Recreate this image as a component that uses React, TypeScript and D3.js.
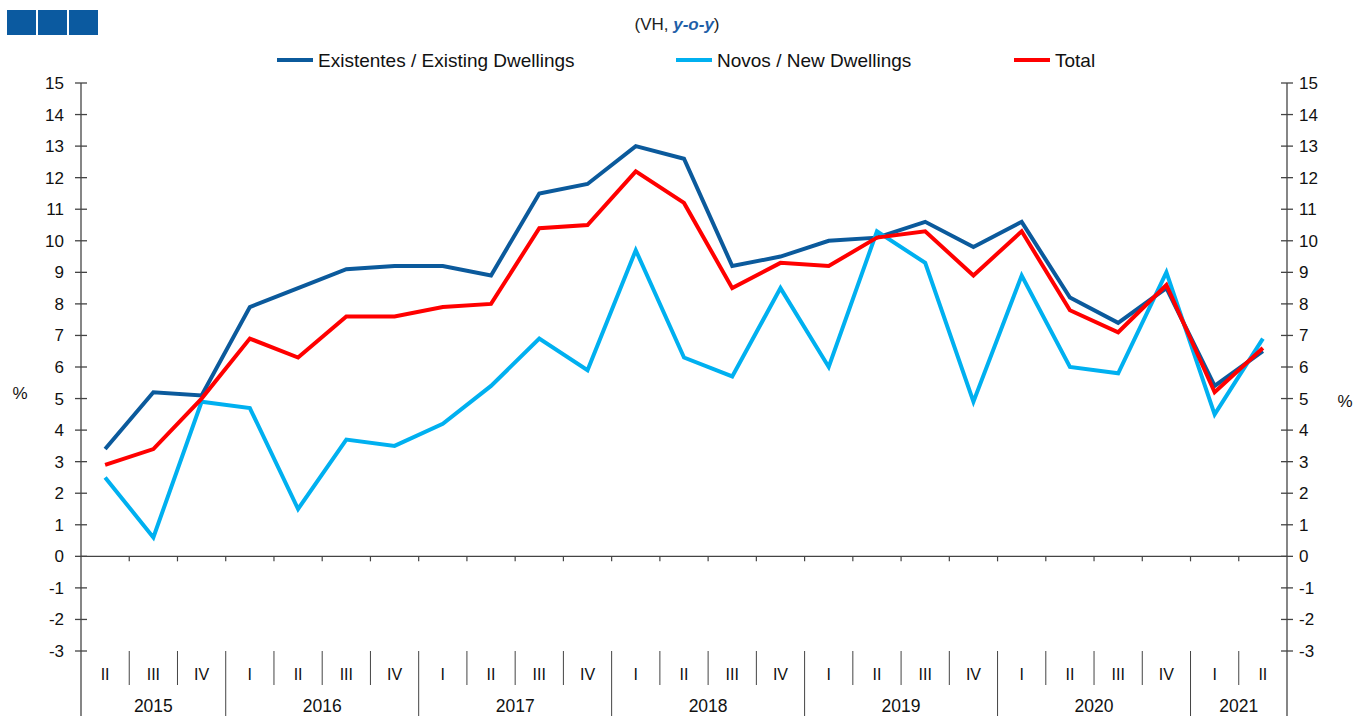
import React from "react";
import * as d3 from "d3";

const quarters = ["II","III","IV","I","II","III","IV","I","II","III","IV","I","II","III","IV","I","II","III","IV","I","II","III","IV","I","II"];
const yearLabels = ["2015","2016","2017","2018","2019","2020","2021"];
const yearQuarterCounts = [3,4,4,4,4,4,2];

const existing = [3.4,5.2,5.1,7.9,8.5,9.1,9.2,9.2,8.9,11.5,11.8,13.0,12.6,9.2,9.5,10.0,10.1,10.6,9.8,10.6,8.2,7.4,8.5,5.4,6.5];
const newDw = [2.5,0.6,4.9,4.7,1.5,3.7,3.5,4.2,5.4,6.9,5.9,9.7,6.3,5.7,8.5,6.0,10.3,9.3,4.9,8.9,6.0,5.8,9.0,4.5,6.9];
const total = [2.9,3.4,5.0,6.9,6.3,7.6,7.6,7.9,8.0,10.4,10.5,12.2,11.2,8.5,9.3,9.2,10.1,10.3,8.9,10.3,7.8,7.1,8.6,5.2,6.6];

const yTicks = [15,14,13,12,11,10,9,8,7,6,5,4,3,2,1,0,-1,-2,-3];

const seriesNames = ["Existentes / Existing Dwellings","Novos / New Dwellings","Total"];
const seriesColors = ["#0b5a9c","#00b0f0","#ff0000"];

export default function App() {
  const W = 1354, H = 716;
  const left = 81, right = 1287;
  const x = d3.scaleBand<number>().domain(d3.range(quarters.length)).range([left, right]).padding(0);
  const y = d3.scaleLinear().domain([-3, 15]).range([651, 83]);
  const bw = x.bandwidth();
  const cx = (i: number) => (x(i) as number) + bw / 2;
  const line = d3.line<number>().x((_, i) => cx(i)).y((d) => y(d));
  const series = [existing, newDw, total];
  const font = "'Liberation Sans', Arial, sans-serif";
  const axisColor = "#444";

  const yearStarts: number[] = [];
  let acc = 0;
  yearQuarterCounts.forEach((c) => { yearStarts.push(acc); acc += c; });

  const legendX = [277, 676, 1014];

  return (
    <svg width={W} height={H} style={{ position: "absolute", left: 0, top: 0, background: "#fff" }} fontFamily={font}>
      {[0,1,2].map((k) => (
        <rect key={k} x={7 + k * 31} y={10} width={29} height={25} fill="#0b5aa0" />
      ))}
      <text x={677} y={30} textAnchor="middle" fontSize={17} fill="#222">
        (VH, <tspan fontWeight="bold" fontStyle="italic" fill="#1f5fa8">y-o-y</tspan>)
      </text>
      {seriesNames.map((n, k) => (
        <g key={n}>
          <line x1={legendX[k]} x2={legendX[k] + 36} y1={60} y2={60} stroke={seriesColors[k]} strokeWidth={4} />
          <text x={legendX[k] + 41} y={66.5} fontSize={19} fill="#111">{n}</text>
        </g>
      ))}
      <line x1={left} x2={left} y1={y(15)} y2={H} stroke={axisColor} strokeWidth={1.3} />
      <line x1={right} x2={right} y1={y(15)} y2={H} stroke={axisColor} strokeWidth={1.3} />
      {yTicks.map((t) => (
        <g key={t}>
          <line x1={left - 6} x2={left + 6} y1={y(t)} y2={y(t)} stroke={axisColor} strokeWidth={1.3} />
          <line x1={right - 6} x2={right + 6} y1={y(t)} y2={y(t)} stroke={axisColor} strokeWidth={1.3} />
          <text x={left - 17} y={y(t) + 6} textAnchor="end" fontSize={17} fill="#111">{t}</text>
          <text x={right + 12} y={y(t) + 6} textAnchor="start" fontSize={17} fill="#111">{t}</text>
        </g>
      ))}
      <text x={20} y={399} textAnchor="middle" fontSize={17} fill="#111">%</text>
      <text x={1345} y={407} textAnchor="middle" fontSize={17} fill="#111">%</text>
      <line x1={left} x2={right} y1={y(0)} y2={y(0)} stroke={axisColor} strokeWidth={1.3} />
      {d3.range(1, quarters.length).map((i) => (
        <line key={i} x1={x(i) as number} x2={x(i) as number} y1={y(0)} y2={y(0) + 5} stroke={axisColor} strokeWidth={1.2} />
      ))}
      {d3.range(1, quarters.length).map((i) => {
        const isYear = yearStarts.includes(i);
        return (
          <line key={"s" + i} x1={x(i) as number} x2={x(i) as number} y1={y(-3)} y2={isYear ? H : 685} stroke={axisColor} strokeWidth={1} />
        );
      })}
      {quarters.map((q, i) => (
        <text key={"q" + i} x={cx(i)} y={679.5} textAnchor="middle" fontSize={16} fill="#111">{q}</text>
      ))}
      {yearLabels.map((yl, k) => {
        const s = yearStarts[k];
        const e = s + yearQuarterCounts[k];
        const mid = ((x(s) as number) + (e < quarters.length ? (x(e) as number) : right)) / 2;
        return (
          <text key={yl} x={mid} y={712} textAnchor="middle" fontSize={17.5} fill="#111">{yl}</text>
        );
      })}
      {series.map((s, k) => (
        <path key={k} d={line(s) as string} fill="none" stroke={seriesColors[k]} strokeWidth={4} strokeLinejoin="miter" />
      ))}
    </svg>
  );
}
